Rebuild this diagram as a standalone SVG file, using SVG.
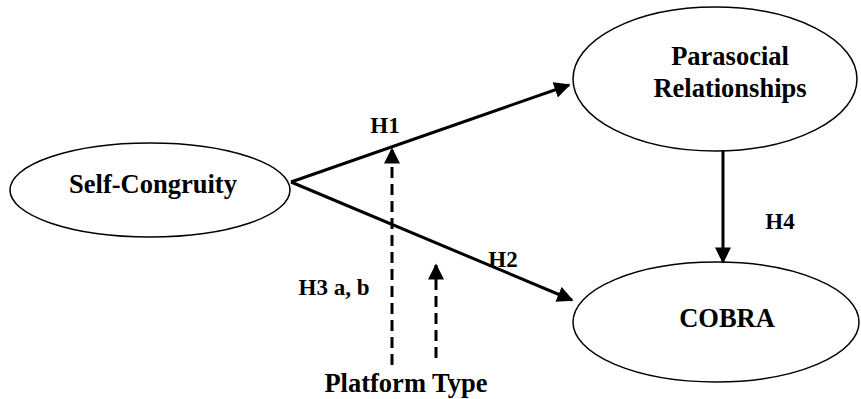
<svg xmlns="http://www.w3.org/2000/svg" width="861" height="399" viewBox="0 0 861 399">
  <style>
    .node { fill: #ffffff; stroke: #000000; stroke-width: 1.5; }
    text { font-family: 'Liberation Serif', 'DejaVu Serif', serif; font-weight: bold; fill: #000000; text-anchor: middle; }
    .big { font-size: 26.5px; }
    .hyp { font-size: 23px; }
    .edge { stroke: #000000; stroke-width: 3; fill: none; }
    .dash { stroke-dasharray: 11 6; }
  </style>
  <defs>
    <marker id="head" viewBox="0 0 10 10" refX="9" refY="5" markerWidth="5.5" markerHeight="5.4" markerUnits="strokeWidth" orient="auto">
      <path d="M0,0 L10,5 L0,10 Z" fill="#000000"/>
    </marker>
  </defs>
  <rect width="861" height="399" fill="#ffffff"/>

  <g id="self-congruity">
    <ellipse class="node" cx="150" cy="190" rx="140" ry="47"/>
    <text class="big" x="153" y="193">Self-Congruity</text>
  </g>

  <g id="parasocial">
    <ellipse class="node" cx="715" cy="79" rx="142" ry="72"/>
    <text class="big" x="730" y="65">Parasocial</text>
    <text class="big" x="730" y="97">Relationships</text>
  </g>

  <g id="cobra">
    <ellipse class="node" cx="716" cy="322" rx="143" ry="60"/>
    <text class="big" x="727" y="327">COBRA</text>
  </g>

  <g id="platform-type">
    <text class="big" x="406" y="392">Platform Type</text>
  </g>

  <g id="connectors">
    <line class="edge" x1="291" y1="182" x2="569" y2="85" marker-end="url(#head)"/>
    <line class="edge" x1="291" y1="182" x2="572" y2="300" marker-end="url(#head)"/>
    <line class="edge" x1="723" y1="151" x2="723" y2="262" marker-end="url(#head)"/>
    <line class="edge dash" x1="392" y1="365" x2="392" y2="149" marker-end="url(#head)"/>
    <line class="edge dash" x1="436" y1="358" x2="436" y2="265" marker-end="url(#head)"/>
    <text class="hyp" x="385" y="133">H1</text>
    <text class="hyp" x="503" y="267">H2</text>
    <text class="hyp" x="334" y="295">H3 a, b</text>
    <text class="hyp" x="780" y="229">H4</text>
  </g>
</svg>
